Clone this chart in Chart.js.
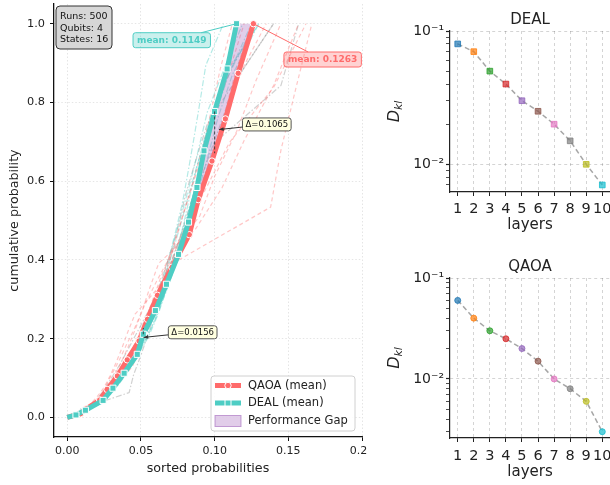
<!DOCTYPE html>
<html>
<head>
<meta charset="utf-8">
<script src="https://cdn.jsdelivr.net/npm/chart.js@4.4.1/dist/chart.umd.min.js"></script>
<style>
  html, body { margin: 0; padding: 0; background: #fff; overflow: hidden; }
  #wrap { position: relative; width: 610px; height: 485px; }
  canvas { position: absolute; }
</style>
</head>
<body>
<div id="wrap">
  <canvas id="cdf" width="367" height="485" style="left:0;top:0;width:367px;height:485px"></canvas>
  <canvas id="deal" width="240" height="246" style="left:370px;top:0;width:240px;height:246px"></canvas>
  <canvas id="qaoa" width="240" height="239" style="left:370px;top:246px;width:240px;height:239px"></canvas>
</div>
<script>
// ---- left panel: mean cumulative curves (x = sorted probability, y = cumulative) ----
const qaoaX = [0, 0.009, 0.013, 0.022, 0.027, 0.034, 0.0407, 0.0487, 0.0544, 0.0612, 0.071, 0.0828, 0.0889, 0.0982, 0.1073, 0.116, 0.1263];
const qaoaY = [0, 0.009, 0.022, 0.044, 0.071, 0.105, 0.146, 0.194, 0.249, 0.31, 0.381, 0.464, 0.553, 0.651, 0.758, 0.874, 1.0];
const dealX = [0, 0.0059, 0.0123, 0.0243, 0.031, 0.0386, 0.0475, 0.0516, 0.0598, 0.0673, 0.0755, 0.0823, 0.088, 0.0928, 0.1, 0.1085, 0.1149];
const dealY = [0, 0.006, 0.018, 0.043, 0.074, 0.112, 0.16, 0.211, 0.271, 0.338, 0.414, 0.496, 0.584, 0.677, 0.777, 0.885, 1.0];

// individual runs: sorted probabilities of the 16 states
const qaoaRuns = [
  [0.006, 0.010, 0.015, 0.020, 0.025, 0.029, 0.033, 0.037, 0.041, 0.046, 0.060, 0.074, 0.138, 0.145, 0.155, 0.166],
  [0.008, 0.014, 0.020, 0.026, 0.031, 0.036, 0.041, 0.046, 0.051, 0.056, 0.062, 0.087, 0.105, 0.120, 0.140, 0.157],
  [0.006, 0.012, 0.019, 0.026, 0.033, 0.039, 0.045, 0.051, 0.057, 0.063, 0.071, 0.090, 0.100, 0.115, 0.128, 0.145],
  [0.004, 0.012, 0.020, 0.030, 0.038, 0.045, 0.050, 0.056, 0.062, 0.070, 0.080, 0.090, 0.098, 0.106, 0.114, 0.125],
  [0.006, 0.014, 0.022, 0.030, 0.036, 0.042, 0.048, 0.054, 0.061, 0.069, 0.077, 0.086, 0.096, 0.108, 0.116, 0.135],
  [0.010, 0.016, 0.024, 0.034, 0.044, 0.050, 0.055, 0.060, 0.066, 0.072, 0.078, 0.085, 0.092, 0.098, 0.104, 0.112],
  [0.010, 0.018, 0.026, 0.033, 0.040, 0.046, 0.052, 0.058, 0.064, 0.070, 0.077, 0.084, 0.092, 0.100, 0.110, 0.120],
  [0.012, 0.018, 0.022, 0.026, 0.030, 0.035, 0.040, 0.046, 0.052, 0.060, 0.070, 0.082, 0.095, 0.110, 0.140, 0.162]
];
const dealRuns = [
  [0.012, 0.022, 0.031, 0.039, 0.046, 0.052, 0.058, 0.063, 0.068, 0.073, 0.078, 0.082, 0.086, 0.090, 0.094, 0.106],
  [0.008, 0.015, 0.024, 0.032, 0.040, 0.047, 0.053, 0.059, 0.065, 0.071, 0.077, 0.083, 0.090, 0.098, 0.108, 0.130],
  [0.005, 0.012, 0.020, 0.028, 0.037, 0.046, 0.055, 0.062, 0.068, 0.074, 0.080, 0.086, 0.092, 0.100, 0.110, 0.125],
  [0.012, 0.020, 0.028, 0.035, 0.041, 0.047, 0.053, 0.059, 0.065, 0.071, 0.077, 0.083, 0.089, 0.095, 0.106, 0.119],
  [0.004, 0.010, 0.018, 0.027, 0.036, 0.044, 0.052, 0.060, 0.067, 0.074, 0.081, 0.088, 0.095, 0.102, 0.112, 0.130],
  [0.006, 0.013, 0.021, 0.029, 0.038, 0.047, 0.055, 0.062, 0.068, 0.074, 0.079, 0.084, 0.090, 0.097, 0.110, 0.127],
  [0.009, 0.016, 0.023, 0.030, 0.037, 0.044, 0.051, 0.058, 0.065, 0.072, 0.079, 0.086, 0.093, 0.100, 0.107, 0.130]
];
const otherRuns = [
  [0.005, 0.007, 0.009, 0.042, 0.045, 0.050, 0.055, 0.060, 0.065, 0.070, 0.075, 0.080, 0.087, 0.095, 0.115, 0.140],
  [0.008, 0.014, 0.021, 0.028, 0.035, 0.042, 0.049, 0.056, 0.063, 0.070, 0.077, 0.084, 0.094, 0.104, 0.115, 0.140],
  [0.010, 0.015, 0.020, 0.025, 0.030, 0.036, 0.042, 0.049, 0.057, 0.065, 0.074, 0.083, 0.092, 0.100, 0.145, 0.157]
];

// gap markers (x, deal value, qaoa value) and their labels
const gapX = [0.0516, 0.1];
const gapFrom = [0.211, 0.777];
const gapTo = [0.227, 0.671];
const gapLabels = ['Δ=0.0156', 'Δ=0.1065'];
const gapLabelPos = [[0.0851, 0.216], [0.1354, 0.744]];
const gapArrowTip = [[0.0518, 0.203], [0.103, 0.731]];

const meanLabels = ['mean: 0.1149', 'mean: 0.1263'];
const meanLabelPos = [[0.0709, 0.958], [0.1733, 0.909]];
const meanTargets = [[0.1149, 1.0], [0.1263, 1.0]];
const infoLines = ['Runs: 500', 'Qubits: 4', 'States: 16'];
const legendLabels = ['QAOA (mean)', 'DEAL (mean)', 'Performance Gap'];

const cdfXTicks = [0, 0.05, 0.1, 0.15, 0.2];
const cdfXLabels = ['0.00', '0.05', '0.10', '0.15', '0.20'];
const cdfYTicks = [0, 0.2, 0.4, 0.6, 0.8, 1.0];
const cdfYLabels = ['0.0', '0.2', '0.4', '0.6', '0.8', '1.0'];

// ---- right panels: KL divergence per layer ----
const layers = [1, 2, 3, 4, 5, 6, 7, 8, 9, 10];
const dealKL = [0.08, 0.07, 0.05, 0.04, 0.03, 0.025, 0.02, 0.015, 0.01, 0.007];
const qaoaKL = [0.06, 0.04, 0.03, 0.025, 0.02, 0.015, 0.01, 0.008, 0.006, 0.003];
const dealLogTicks = [0.007, 0.008, 0.009, 0.01, 0.02, 0.03, 0.04, 0.05, 0.06, 0.07, 0.08, 0.09, 0.1];
const qaoaLogTicks = [0.003, 0.004, 0.005, 0.006, 0.007, 0.008, 0.009, 0.01, 0.02, 0.03, 0.04, 0.05, 0.06, 0.07, 0.08, 0.09, 0.1];
const decadeLabels = { '-1': '10⁻¹', '-2': '10⁻²', '-3': '10⁻³' };

const RED = '#FF6B6B', TEAL = '#4ECDC4';
const tab10 = ['#1f77b4', '#ff7f0e', '#2ca02c', '#d62728', '#9467bd', '#8c564b', '#e377c2', '#7f7f7f', '#bcbd22', '#17becf'];

Chart.defaults.font.family = '"DejaVu Sans", sans-serif';
Chart.defaults.color = '#222';

const pts = (xs, ys) => xs.map((x, i) => ({ x: x, y: ys[i] }));
const cumsum = a => { let s = 0; return a.map(v => (s += v)); };

function runSet(runs, color, dash) {
  return runs.map(r => ({
    data: pts(r, cumsum(r)), showLine: true, borderColor: color, borderWidth: 1.2,
    borderDash: dash, pointRadius: 0, order: 10
  }));
}

function rrect(ctx, x, y, w, h, r) {
  ctx.beginPath();
  ctx.moveTo(x + r, y);
  ctx.lineTo(x + w - r, y); ctx.quadraticCurveTo(x + w, y, x + w, y + r);
  ctx.lineTo(x + w, y + h - r); ctx.quadraticCurveTo(x + w, y + h, x + w - r, y + h);
  ctx.lineTo(x + r, y + h); ctx.quadraticCurveTo(x, y + h, x, y + h - r);
  ctx.lineTo(x, y + r); ctx.quadraticCurveTo(x, y, x + r, y);
  ctx.closePath();
}

// box with text, optional line/arrow to a target pixel
function tagBox(ctx, text, cx, cy, o) {
  ctx.font = o.font;
  const w = ctx.measureText(text).width + 2 * o.padX, h = o.h;
  if (o.target) {
    const dx = o.target[0] - cx, dy = o.target[1] - cy;
    const t = Math.min(Math.abs((w / 2) / dx), Math.abs((h / 2) / dy));
    const sx = cx + dx * t, sy = cy + dy * t;
    ctx.strokeStyle = o.lineColor; ctx.lineWidth = 1; ctx.setLineDash([]);
    ctx.beginPath(); ctx.moveTo(sx, sy); ctx.lineTo(o.target[0], o.target[1]); ctx.stroke();
    if (o.head) {
      const ang = Math.atan2(dy, dx), L = 5;
      ctx.fillStyle = o.lineColor;
      ctx.beginPath();
      ctx.moveTo(o.target[0], o.target[1]);
      ctx.lineTo(o.target[0] - L * Math.cos(ang - 0.4), o.target[1] - L * Math.sin(ang - 0.4));
      ctx.lineTo(o.target[0] - L * Math.cos(ang + 0.4), o.target[1] - L * Math.sin(ang + 0.4));
      ctx.closePath(); ctx.fill();
    }
  }
  rrect(ctx, cx - w / 2, cy - h / 2, w, h, 2.5);
  ctx.fillStyle = o.fill; ctx.fill();
  ctx.strokeStyle = o.stroke; ctx.lineWidth = 1; ctx.stroke();
  ctx.fillStyle = o.color; ctx.textAlign = 'center'; ctx.textBaseline = 'middle';
  ctx.fillText(text, cx, cy + 0.5);
}

const cdfDecor = {
  id: 'cdfDecor',
  afterDatasetsDraw(chart) {
    const { ctx, chartArea: a, scales: { x, y } } = chart;
    const px = v => x.getPixelForValue(v), py = v => y.getPixelForValue(v);
    ctx.save();
    // vertical gap markers
    ctx.strokeStyle = 'rgba(40,40,40,0.8)'; ctx.lineWidth = 1; ctx.setLineDash([3, 2]);
    gapX.forEach((g, i) => {
      ctx.beginPath(); ctx.moveTo(px(g), py(gapFrom[i])); ctx.lineTo(px(g), py(gapTo[i])); ctx.stroke();
    });
    ctx.setLineDash([]);
    gapLabels.forEach((t, i) => {
      tagBox(ctx, t, px(gapLabelPos[i][0]), py(gapLabelPos[i][1]), {
        font: '8.5px "DejaVu Sans"', padX: 3, h: 13, fill: '#ffffe0', stroke: '#555', color: '#111',
        target: [px(gapArrowTip[i][0]), py(gapArrowTip[i][1])], lineColor: '#333', head: true
      });
    });
    // mean labels
    const mc = [TEAL, RED], mf = ['rgba(78,205,196,0.3)', 'rgba(255,107,107,0.3)'];
    meanLabels.forEach((t, i) => {
      tagBox(ctx, t, px(meanLabelPos[i][0]), py(meanLabelPos[i][1]), {
        font: 'bold 9px "DejaVu Sans"', padX: 4, h: 15, fill: mf[i], stroke: mc[i], color: mc[i],
        target: [px(meanTargets[i][0]), py(meanTargets[i][1])], lineColor: mc[i], head: false
      });
    });
    // info box
    rrect(ctx, a.left + 2, a.top + 2, 56, 43, 4);
    ctx.fillStyle = 'rgba(211,211,211,0.9)'; ctx.fill();
    ctx.strokeStyle = '#333'; ctx.lineWidth = 1; ctx.stroke();
    ctx.fillStyle = '#111'; ctx.font = '9.5px "DejaVu Sans"'; ctx.textAlign = 'left'; ctx.textBaseline = 'middle';
    infoLines.forEach((t, i) => ctx.fillText(t, a.left + 6, a.top + 13 + i * 11.5));
    // legend
    const lx = a.right - 151, ly = a.bottom - 61, lw = 144, lh = 55;
    rrect(ctx, lx, ly, lw, lh, 3);
    ctx.fillStyle = 'rgba(255,255,255,0.85)'; ctx.fill();
    ctx.strokeStyle = '#d0d0d0'; ctx.lineWidth = 1; ctx.stroke();
    const rows = [ly + 9.5, ly + 27, ly + 45];
    [RED, TEAL].forEach((c, i) => {
      ctx.strokeStyle = c; ctx.lineWidth = 5;
      ctx.beginPath(); ctx.moveTo(lx + 4, rows[i]); ctx.lineTo(lx + 30, rows[i]); ctx.stroke();
      ctx.fillStyle = c; ctx.strokeStyle = '#fff'; ctx.lineWidth = 1;
      ctx.beginPath();
      if (i === 0) ctx.arc(lx + 17, rows[i], 3.2, 0, Math.PI * 2);
      else ctx.rect(lx + 17 - 3, rows[i] - 3, 6, 6);
      ctx.fill(); ctx.stroke();
    });
    ctx.fillStyle = 'rgba(155,89,182,0.3)'; ctx.strokeStyle = 'rgba(155,89,182,0.55)'; ctx.lineWidth = 1;
    ctx.fillRect(lx + 4, rows[2] - 5.5, 26, 11); ctx.strokeRect(lx + 4, rows[2] - 5.5, 26, 11);
    ctx.fillStyle = '#222'; ctx.font = '11.5px "DejaVu Sans"'; ctx.textAlign = 'left'; ctx.textBaseline = 'middle';
    legendLabels.forEach((t, i) => ctx.fillText(t, lx + 37, rows[i] + 0.5));
    ctx.restore();
  }
};

new Chart(document.getElementById('cdf'), {
  type: 'scatter',
  data: {
    datasets: [
      ...runSet(qaoaRuns, 'rgba(255,107,107,0.38)', [4, 3]),
      ...runSet(dealRuns, 'rgba(78,205,196,0.42)', [6, 2, 1.5, 2]),
      ...runSet(otherRuns, 'rgba(128,128,128,0.36)', [6, 2, 1.5, 2]),
      {
        data: [...pts(qaoaX, qaoaY), ...pts(dealX, dealY).reverse()],
        showLine: true, borderWidth: 0, pointRadius: 0, fill: 'shape',
        backgroundColor: 'rgba(155,89,182,0.3)', order: 5
      },
      {
        data: pts(qaoaX, qaoaY), showLine: true, borderColor: RED, borderWidth: 5,
        pointRadius: c => (c.dataIndex === 0 ? 0 : 3.2), pointBackgroundColor: RED,
        pointBorderColor: '#fff', pointBorderWidth: 1, order: 2
      },
      {
        data: pts(dealX, dealY), showLine: true, borderColor: TEAL, borderWidth: 5,
        pointStyle: 'rect', pointRadius: c => (c.dataIndex === 0 ? 0 : 4.3), pointBackgroundColor: TEAL,
        pointBorderColor: '#fff', pointBorderWidth: 1, order: 1
      }
    ]
  },
  options: {
    responsive: false, animation: false, events: [],
    layout: { autoPadding: false, padding: { top: 4, right: 5, left: 0, bottom: 0 } },
    plugins: { legend: { display: false }, tooltip: { enabled: false } },
    scales: {
      x: {
        type: 'linear', min: -0.009, max: 0.2,
        afterBuildTicks: s => { s.ticks = cdfXTicks.map(v => ({ value: v })); },
        afterFit: s => { s.height = 48; s.paddingLeft = 0; s.paddingRight = 0; },
        ticks: { callback: (v, i) => cdfXLabels[i], font: { size: 11 }, color: '#222', padding: 4, autoSkip: false, maxRotation: 0 },
        grid: { color: 'rgba(0,0,0,0.13)', lineWidth: 0.8, tickColor: '#111', tickLength: 4, tickWidth: 1, tickBorderDash: [] },
        border: { color: '#111', width: 1.3, dash: [1.5, 2] },
        title: { display: true, text: 'sorted probabilities', font: { size: 12.7 }, color: '#222', padding: { top: 0, bottom: 8.4 } }
      },
      y: {
        type: 'linear', min: -0.05, max: 1.05,
        afterBuildTicks: s => { s.ticks = cdfYTicks.map(v => ({ value: v })); },
        afterFit: s => { s.width = 54; s.paddingTop = 0; s.paddingBottom = 0; },
        ticks: { callback: (v, i) => cdfYLabels[i], font: { size: 11.3 }, color: '#222', padding: 5, autoSkip: false },
        grid: { color: 'rgba(0,0,0,0.13)', lineWidth: 0.8, tickColor: '#111', tickLength: 4, tickWidth: 1, tickBorderDash: [] },
        border: { color: '#111', width: 1.3, dash: [1.5, 2] },
        title: { display: true, text: 'cumulative probability', font: { size: 12.7 }, color: '#222', padding: { top: 7.4, bottom: 0 } }
      }
    }
  },
  plugins: [cdfDecor]
});

const isMajor = v => Math.abs(Math.log10(v) - Math.round(Math.log10(v))) < 1e-9;

const dklLabel = {
  id: 'dklLabel',
  afterDraw(chart) {
    const { ctx, chartArea: a } = chart;
    ctx.save();
    ctx.translate(26, (a.top + a.bottom) / 2);
    ctx.rotate(-Math.PI / 2);
    ctx.fillStyle = '#222'; ctx.textBaseline = 'middle'; ctx.textAlign = 'left';
    ctx.font = 'italic 16px "DejaVu Sans"';
    const dw = ctx.measureText('D').width;
    ctx.font = 'italic 11px "DejaVu Sans"';
    const kw = ctx.measureText('kl').width;
    const x0 = -(dw + kw) / 2;
    ctx.font = 'italic 16px "DejaVu Sans"';
    ctx.fillText('D', x0, -1);
    ctx.font = 'italic 11px "DejaVu Sans"';
    ctx.fillText('kl', x0 + dw, 3.5);
    ctx.restore();
  }
};

function klChart(id, name, values, style, radius, yMin, logTicks, xHeight, titlePad, layersPad, tickPad) {
  return new Chart(document.getElementById(id), {
    type: 'scatter',
    data: {
      datasets: [{
        data: pts(layers, values), showLine: true,
        borderColor: 'rgba(150,150,150,0.85)', borderWidth: 1.5, borderDash: [5, 3],
        pointStyle: style, pointRadius: radius,
        pointBackgroundColor: tab10.map(c => c + 'b3'), pointBorderColor: tab10.map(c => c + 'cc'), pointBorderWidth: 1
      }]
    },
    options: {
      responsive: false, animation: false, events: [],
      layout: { autoPadding: false, padding: 0 },
      plugins: {
        legend: { display: false }, tooltip: { enabled: false },
        title: { display: true, text: name, fullSize: false, font: { size: 15, weight: 'normal' }, color: '#222', padding: titlePad }
      },
      scales: {
        x: {
          type: 'linear', min: 0.52, max: 10.48,
          afterBuildTicks: s => { s.ticks = layers.map(v => ({ value: v })); },
          afterFit: s => { s.height = xHeight; s.paddingLeft = 0; s.paddingRight = 0; },
          ticks: { callback: v => String(v), font: { size: 14.5 }, color: '#222', padding: tickPad, autoSkip: false, maxRotation: 0 },
          grid: { color: 'rgba(0,0,0,0.17)', lineWidth: 1, tickColor: '#222', tickLength: 4, tickBorderDash: [] },
          border: { color: '#222', width: 1.2, dash: [3, 3] },
          title: { display: true, text: 'layers', font: { size: 15 }, color: '#222', padding: { top: 0, bottom: layersPad } }
        },
        y: {
          type: 'logarithmic', min: yMin, max: 0.1,
          afterBuildTicks: s => { s.ticks = logTicks.map(v => ({ value: v })); },
          afterFit: s => { s.width = 80; s.paddingTop = 0; s.paddingBottom = 0; },
          ticks: { callback: v => (isMajor(v) ? decadeLabels[String(Math.round(Math.log10(v)))] : ''), font: { size: 14 }, color: '#222', padding: 2, autoSkip: false },
          grid: {
            color: c => (c.tick && isMajor(c.tick.value) ? 'rgba(0,0,0,0.17)' : 'rgba(0,0,0,0)'),
            tickColor: '#222', tickLength: 4,
            tickWidth: c => (c.tick && isMajor(c.tick.value) ? 1.2 : 0.8), tickBorderDash: []
          },
          border: { color: '#222', width: 1.2, dash: [3, 3] }
        }
      }
    },
    plugins: [dklLabel]
  });
}

klChart('deal', 'DEAL', dealKL, 'rect', 4, 0.0062, dealLogTicks, 54, { top: 11, bottom: 2 }, 12, 5);
klChart('qaoa', 'QAOA', qaoaKL, 'circle', 3, 0.0026, qaoaLogTicks, 47, { top: 11.7, bottom: 2.3 }, 4, 5.5);
</script>
</body>
</html>
